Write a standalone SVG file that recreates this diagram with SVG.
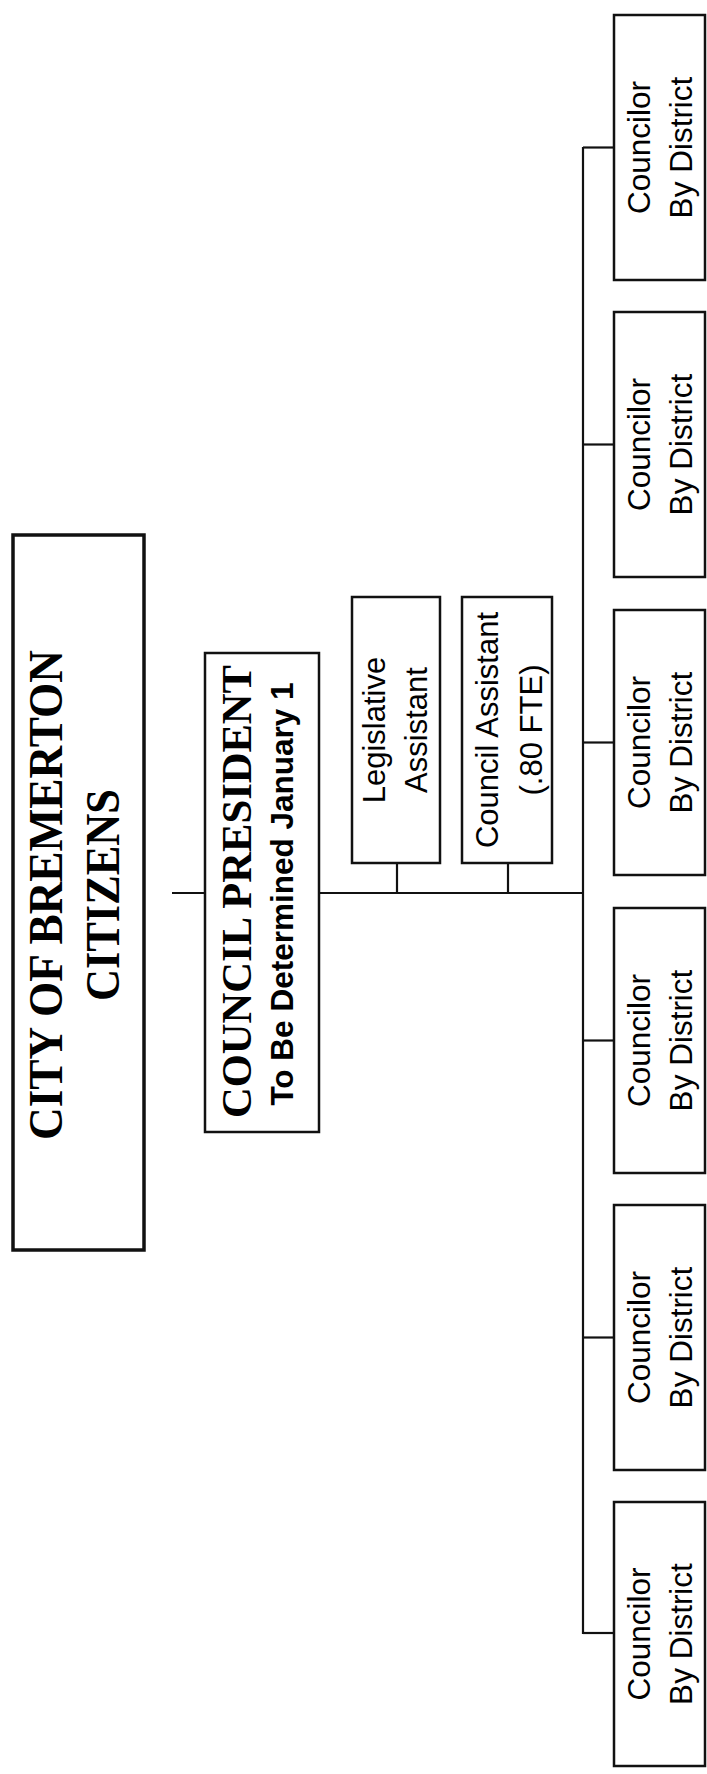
<svg xmlns="http://www.w3.org/2000/svg" width="707" height="1774" viewBox="0 0 707 1774">
<style>
.box{fill:#fff;stroke:#111;stroke-width:2.5}
.thick{stroke-width:3.5}
.ln{stroke:#111;stroke-width:2.2;fill:none}
.serif{font-family:"Liberation Serif","Times New Roman",serif;font-weight:bold;fill:#000}
.sans{font-family:"Liberation Sans",Arial,sans-serif;fill:#000}
.b{font-weight:bold}
text{text-anchor:middle}
</style>
<rect width="707" height="1774" fill="#fff"/>
<g id="connectors">
  <line class="ln" x1="172" y1="893" x2="205" y2="893"/>
  <line class="ln" x1="319" y1="893" x2="583" y2="893"/>
  <line class="ln" x1="397" y1="864" x2="397" y2="893"/>
  <line class="ln" x1="508" y1="864" x2="508" y2="893"/>
  <line class="ln" x1="583" y1="147" x2="583" y2="1634"/>
  <line class="ln" x1="583" y1="147.5" x2="614" y2="147.5"/>
  <line class="ln" x1="583" y1="444.5" x2="614" y2="444.5"/>
  <line class="ln" x1="583" y1="742.5" x2="614" y2="742.5"/>
  <line class="ln" x1="583" y1="1040.5" x2="614" y2="1040.5"/>
  <line class="ln" x1="583" y1="1337.5" x2="614" y2="1337.5"/>
  <line class="ln" x1="583" y1="1633" x2="614" y2="1633"/>
</g>
<g id="citizens">
  <rect class="box thick" x="13" y="535" width="131" height="715"/>
  <text class="serif" font-size="49" textLength="490" lengthAdjust="spacingAndGlyphs" transform="translate(62,895) rotate(-90)">CITY OF BREMERTON</text>
  <text class="serif" font-size="49" textLength="212" lengthAdjust="spacingAndGlyphs" transform="translate(119,895) rotate(-90)">CITIZENS</text>
</g>
<g id="president">
  <rect class="box" x="205" y="653" width="114" height="479"/>
  <text class="serif" font-size="43" textLength="453" lengthAdjust="spacingAndGlyphs" transform="translate(251,891.5) rotate(-90)">COUNCIL PRESIDENT</text>
  <text class="sans b" font-size="31.5" transform="translate(293,894) rotate(-90)">To Be Determined January 1</text>
</g>
<g id="legislative-assistant">
  <rect class="box" x="352" y="597" width="88" height="266"/>
  <text class="sans" font-size="31" transform="translate(385,730) rotate(-90)">Legislative</text>
  <text class="sans" font-size="31" transform="translate(427,730) rotate(-90)">Assistant</text>
</g>
<g id="council-assistant">
  <rect class="box" x="462" y="597" width="90" height="266"/>
  <text class="sans" font-size="31" transform="translate(498,730) rotate(-90)">Council Assistant</text>
  <text class="sans" font-size="31" transform="translate(542,730) rotate(-90)">(.80 FTE)</text>
</g>
<g id="councilor-1">
  <rect class="box" x="614" y="15" width="91" height="265"/>
  <text class="sans" font-size="31.5" transform="translate(650,147.5) rotate(-90)">Councilor</text>
  <text class="sans" font-size="31.5" transform="translate(692,147.5) rotate(-90)">By District</text>
</g>
<g id="councilor-2">
  <rect class="box" x="614" y="312" width="91" height="265"/>
  <text class="sans" font-size="31.5" transform="translate(650,444.5) rotate(-90)">Councilor</text>
  <text class="sans" font-size="31.5" transform="translate(692,444.5) rotate(-90)">By District</text>
</g>
<g id="councilor-3">
  <rect class="box" x="614" y="610" width="91" height="265"/>
  <text class="sans" font-size="31.5" transform="translate(650,742.5) rotate(-90)">Councilor</text>
  <text class="sans" font-size="31.5" transform="translate(692,742.5) rotate(-90)">By District</text>
</g>
<g id="councilor-4">
  <rect class="box" x="614" y="908" width="91" height="265"/>
  <text class="sans" font-size="31.5" transform="translate(650,1040.5) rotate(-90)">Councilor</text>
  <text class="sans" font-size="31.5" transform="translate(692,1040.5) rotate(-90)">By District</text>
</g>
<g id="councilor-5">
  <rect class="box" x="614" y="1205" width="91" height="265"/>
  <text class="sans" font-size="31.5" transform="translate(650,1337.5) rotate(-90)">Councilor</text>
  <text class="sans" font-size="31.5" transform="translate(692,1337.5) rotate(-90)">By District</text>
</g>
<g id="councilor-6">
  <rect class="box" x="614" y="1502" width="91" height="264"/>
  <text class="sans" font-size="31.5" transform="translate(650,1634) rotate(-90)">Councilor</text>
  <text class="sans" font-size="31.5" transform="translate(692,1634) rotate(-90)">By District</text>
</g>
</svg>
